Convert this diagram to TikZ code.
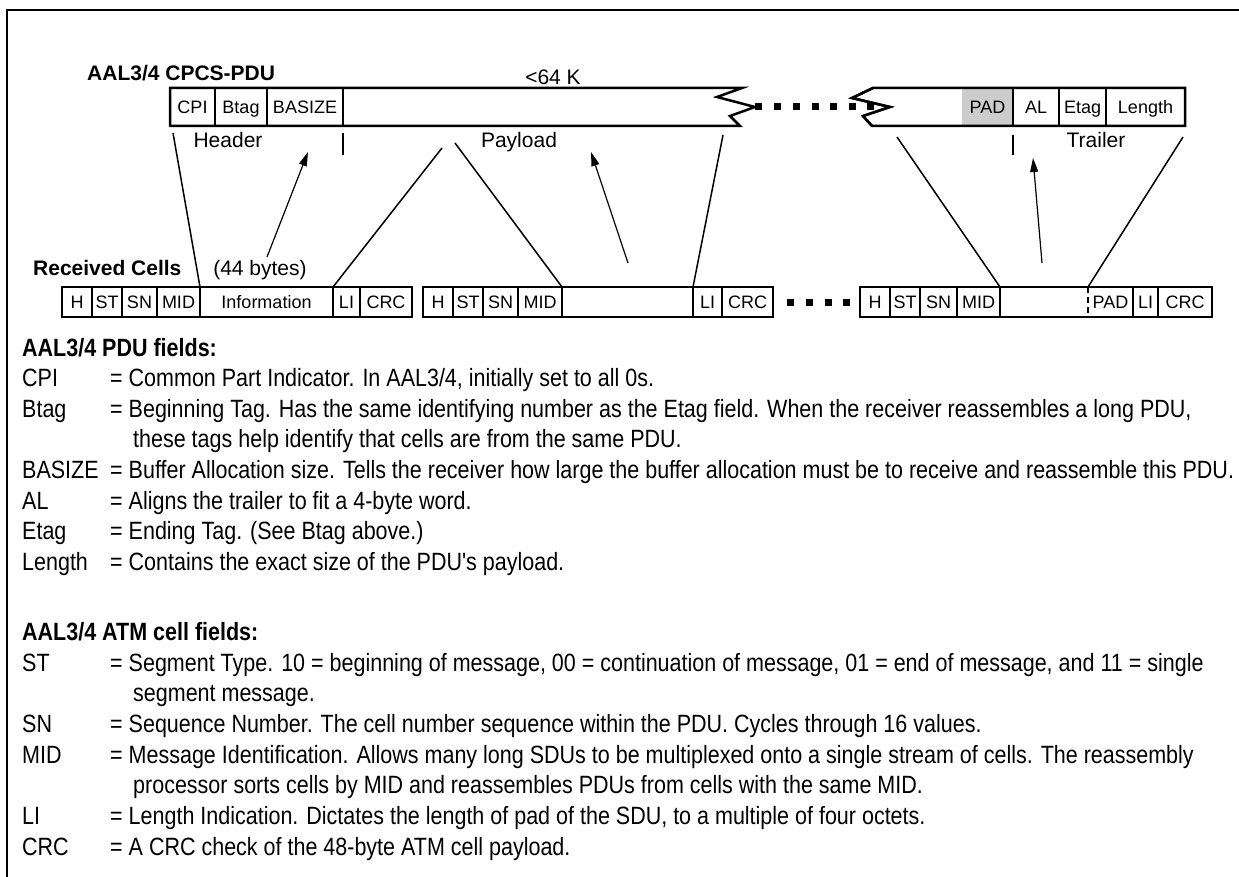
\documentclass[tikz,border=0pt]{standalone}
\usepackage{fontspec}
\setmainfont{Liberation Sans}
\newfontfamily\condfont[FakeStretch=0.86]{Liberation Sans}
\usetikzlibrary{arrows.meta}
\definecolor{padgray}{gray}{0.8}
\begin{document}
\begin{tikzpicture}[x=1pt,y=-1pt,
 lbl/.style={font=\fontsize{21}{24}\selectfont, inner sep=0, anchor=base},
 boldlbl/.style={font=\bfseries\fontsize{21}{24}\selectfont, inner sep=0, anchor=base west},
 cell/.style={font=\fontsize{18}{20}\selectfont, inner sep=0, anchor=base},
 txt/.style={font=\condfont\fontsize{25}{28}\selectfont, anchor=base west, inner sep=0},
 hd/.style={font=\condfont\bfseries\fontsize{25}{28}\selectfont, anchor=base west, inner sep=0},
 frame/.style={line width=1.5pt},
 outer/.style={line width=2.5pt, line join=miter},
 div/.style={line width=1.5pt},
 conn/.style={line width=1.5pt},
 arr/.style={line width=1.2pt, -{Triangle[length=14pt,width=8pt]}},
 sq/.style={fill=black}
]
\useasboundingbox (0,0) rectangle (1239,877);
% frame
\coordinate (f1) at (1239,10);
\coordinate (f0) at (7,10);
\coordinate (f2) at (7,877);
\draw[frame] (f1) -- (f0) -- (f2);

% titles
\node[boldlbl] (title) at (87,80.5) {AAL3/4 CPCS-PDU};
\node[lbl] (size) at (553,84.5) {<64 K};

% PDU part 1
\draw[outer] (170,88) -- (742,88) -- (717,97) -- (755,107) -- (730,116) -- (740,126) -- (170,126) -- cycle;
\foreach \x in {215,267,343} \draw[div] (\x,88) -- (\x,126);
\node[cell] (cpi) at (192.5,113.5) {CPI};
\node[cell] (btag) at (241,113.5) {Btag};
\node[cell] (basize) at (305,113.5) {BASIZE};

% PDU part 2
\fill[padgray] (962,88) rectangle (1013,126);
\draw[outer] (873,88) -- (1185,88) -- (1185,126) -- (872,126) -- (863,116) -- (890,107) -- (852,98) -- cycle;
\foreach \x in {1013,1059,1106} \draw[div] (\x,88) -- (\x,126);
\node[cell] (pad) at (987.5,113.5) {PAD};
\node[cell] (al) at (1036,113.5) {AL};
\node[cell] (etag) at (1082.5,113.5) {Etag};
\node[cell] (len) at (1145.5,113.5) {Length};

% dots between PDU parts
\foreach \x in {758.5,777,796,815,833.5,852,870}
  \fill[sq] (\x-3.5,103.5) rectangle (\x+3.5,110.5);
\draw[outer] (873,88) -- (852,98) -- (890,107) -- (863,116) -- (872,126);

% group labels
\node[lbl] (header) at (228,147.5) {Header};
\node[lbl] (payload) at (519,147.5) {Payload};
\node[lbl] (trailer) at (1096,147.5) {Trailer};
\draw[div] (343,133) -- (343,155);
\draw[div] (1013,135) -- (1013,155);

% Received cells
\node[boldlbl] (rc) at (33,275.5) {Received Cells};
\node[lbl] (bytes) at (260,275.5) {(44 bytes)};

% cell 1
\draw[outer] (62,287) rectangle (412,317);
\foreach \x in {92,122,157,200,333,360} \draw[div] (\x,287) -- (\x,317);
\node[cell] (c1h) at (77,308.5) {H};
\node[cell] (c1st) at (107,308.5) {ST};
\node[cell] (c1sn) at (139.5,308.5) {SN};
\node[cell] (c1mid) at (178.5,308.5) {MID};
\node[cell] (c1inf) at (266.5,308.5) {Information};
\node[cell] (c1li) at (346.5,308.5) {LI};
\node[cell] (c1crc) at (386,308.5) {CRC};

% cell 2
\draw[outer] (423,287) rectangle (773,317);
\foreach \x in {453,483,518,562,693,722} \draw[div] (\x,287) -- (\x,317);
\node[cell] (c2h) at (438,308.5) {H};
\node[cell] (c2st) at (468,308.5) {ST};
\node[cell] (c2sn) at (500.5,308.5) {SN};
\node[cell] (c2mid) at (540,308.5) {MID};
\node[cell] (c2li) at (707.5,308.5) {LI};
\node[cell] (c2crc) at (747.5,308.5) {CRC};

% dots between cells
\foreach \x in {790,809,828,846}
  \fill[sq] (\x-3.5,298.5) rectangle (\x+3.5,305.5);

% cell 3
\draw[outer] (860,287) rectangle (1212,317);
\foreach \x in {890,920,957,1000,1133,1158} \draw[div] (\x,287) -- (\x,317);
\draw[div, dash pattern=on 6pt off 4pt] (1088,287) -- (1088,317);
\node[cell] (c3h) at (875,308.5) {H};
\node[cell] (c3st) at (905,308.5) {ST};
\node[cell] (c3sn) at (938.5,308.5) {SN};
\node[cell] (c3mid) at (978.5,308.5) {MID};
\node[cell] (c3pad) at (1110.5,308.5) {PAD};
\node[cell] (c3li) at (1145.5,308.5) {LI};
\node[cell] (c3crc) at (1185,308.5) {CRC};

% connector coordinates
\coordinate (l1a) at (173,133); \coordinate (l1b) at (200,287);
\coordinate (l2a) at (442,148); \coordinate (l2b) at (333,287);
\coordinate (l3a) at (455,143); \coordinate (l3b) at (562,287);
\coordinate (l4a) at (723,135); \coordinate (l4b) at (693,287);
\coordinate (l5a) at (897,137); \coordinate (l5b) at (1000,287);
\coordinate (l6a) at (1183,137); \coordinate (l6b) at (1088,287);
\coordinate (a1a) at (267,257); \coordinate (a1b) at (308,152);
\coordinate (a2a) at (628,263); \coordinate (a2b) at (591,152);
\coordinate (a3a) at (1042,263); \coordinate (a3b) at (1033,158);
\draw[conn] (l1a) -- (l1b);
\draw[conn] (l2a) -- (l2b);
\draw[conn] (l3a) -- (l3b);
\draw[conn] (l4a) -- (l4b);
\draw[conn] (l5a) -- (l5b);
\draw[conn] (l6a) -- (l6b);
\draw[arr] (a1a) -- (a1b);
\draw[arr] (a2a) -- (a2b);
\draw[arr] (a3a) -- (a3b);

% descriptive text
\def\lx{22}\def\ex{110}\def\cx{133}
\node[hd] (h1) at (\lx,356) {AAL3/4 PDU fields:};
\node[txt] (k1) at (\lx,386) {CPI};    \node[txt] (e1) at (\ex,386) {= Common Part Indicator. In AAL3/4, initially set to all 0s.};
\node[txt] (k2) at (\lx,417) {Btag};   \node[txt] (e2) at (\ex,417) {= Beginning Tag. Has the same identifying number as the Etag field. When the receiver reassembles a long PDU,};
\node[txt] (e2b) at (\cx,447) {these tags help identify that cells are from the same PDU.};
\node[txt] (k3) at (\lx,478) {BASIZE}; \node[txt] (e3) at (\ex,478) {= Buffer Allocation size. Tells the receiver how large the buffer allocation must be to receive and reassemble this PDU.};
\node[txt] (k4) at (\lx,509) {AL};     \node[txt] (e4) at (\ex,509) {= Aligns the trailer to fit a 4-byte word.};
\node[txt] (k5) at (\lx,539) {Etag};   \node[txt] (e5) at (\ex,539) {= Ending Tag. (See Btag above.)};
\node[txt] (k6) at (\lx,570) {Length}; \node[txt] (e6) at (\ex,570) {= Contains the exact size of the PDU's payload.};
\node[hd] (h2) at (\lx,640) {AAL3/4 ATM cell fields:};
\node[txt] (k7) at (\lx,671) {ST};     \node[txt] (e7) at (\ex,671) {= Segment Type. 10 = beginning of message, 00 = continuation of message, 01 = end of message, and 11 = single};
\node[txt] (e7b) at (\cx,701) {segment message.};
\node[txt] (k8) at (\lx,732) {SN};     \node[txt] (e8) at (\ex,732) {= Sequence Number. The cell number sequence within the PDU. Cycles through 16 values.};
\node[txt] (k9) at (\lx,763) {MID};    \node[txt] (e9) at (\ex,763) {= Message Identification. Allows many long SDUs to be multiplexed onto a single stream of cells. The reassembly};
\node[txt] (e9b) at (\cx,793) {processor sorts cells by MID and reassembles PDUs from cells with the same MID.};
\node[txt] (k10) at (\lx,824) {LI};    \node[txt] (e10) at (\ex,824) {= Length Indication. Dictates the length of pad of the SDU, to a multiple of four octets.};
\node[txt] (k11) at (\lx,855) {CRC};   \node[txt] (e11) at (\ex,855) {= A CRC check of the 48-byte ATM cell payload.};
\end{tikzpicture}
\end{document}
